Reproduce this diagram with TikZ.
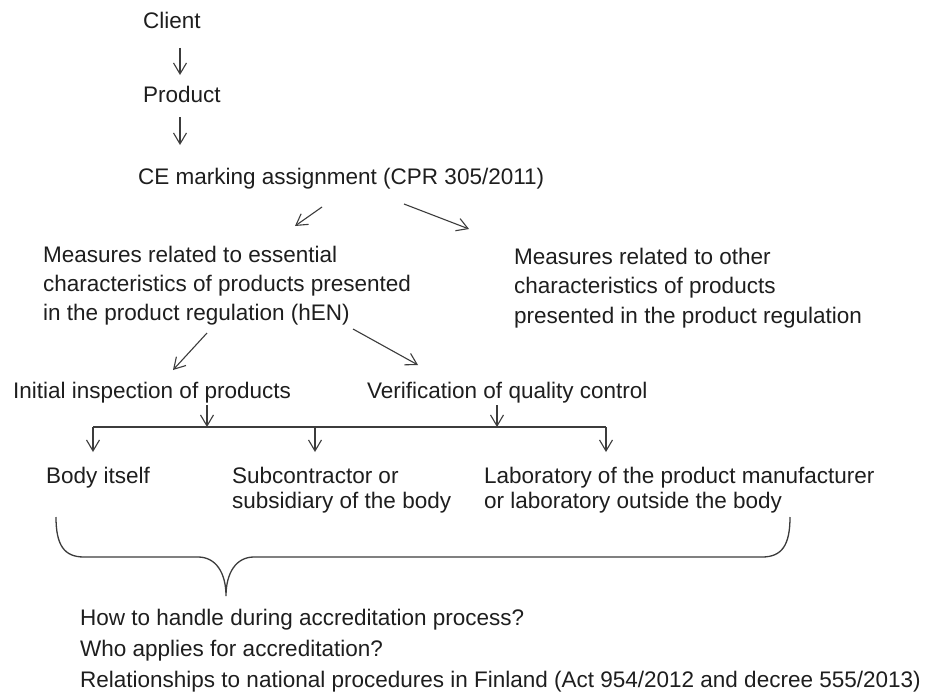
\documentclass[tikz,border=0pt]{standalone}
\usepackage{fontspec}
\setmainfont{Liberation Sans}
\usetikzlibrary{arrows.meta}
\definecolor{tcol}{HTML}{1E1E1E}
\definecolor{lcol}{HTML}{3C3C3C}
\newcommand{\mylines}[2]{{\fontsize{22.5}{#1}\selectfont\begin{tabular}[t]{@{}l@{}}#2\end{tabular}}}
\begin{document}
\begin{tikzpicture}[x=1pt,y=-1pt,
  txt/.style={inner sep=0pt, anchor=base west, text=tcol, font=\fontsize{22.5}{27}\selectfont},
  arr/.style={draw=lcol, line width=1.1pt, -{Straight Barb[length=11pt,width=13pt,line width=1.1pt]}},
  ln/.style={draw=lcol, line width=1.1pt},
  brace/.style={draw=lcol, line width=1.3pt}]
\useasboundingbox[fill=white] (0,0) rectangle (928,693);
% texts
\node[txt] (client) at (143,29) {Client};
\node[txt] (product) at (143,102) {Product};
\node[txt] (ce) at (138,184) {CE marking assignment (CPR 305/2011)};
\node[txt] (ess) at (43,262) {\mylines{29}{Measures related to essential\\characteristics of products presented\\in the product regulation (hEN)}};
\node[txt] (oth) at (514,264) {\mylines{29.5}{Measures related to other\\characteristics of products\\presented in the product regulation}};
\node[txt] (init) at (13,398) {Initial inspection of products};
\node[txt] (verif) at (367,398) {Verification of quality control};
\node[txt] (body) at (46,483) {Body itself};
\node[txt] (sub) at (232,483) {\mylines{25}{Subcontractor or\\subsidiary of the body}};
\node[txt] (lab) at (484,483) {\mylines{25}{Laboratory of the product manufacturer\\or laboratory outside the body}};
\node[txt] (q) at (80,625) {\mylines{31}{How to handle during accreditation process?\\Who applies for accreditation?\\Relationships to national procedures in Finland (Act 954/2012 and decree 555/2013)}};
% bus coordinates
\coordinate (busL) at (93,427);
\coordinate (busM) at (315,427);
\coordinate (busR) at (606,427);
\coordinate (j1) at (207,427);
\coordinate (j2) at (497,427);
% connectors
\draw[arr] ([shift={(37,19)}]client.base west) -- ([shift={(37,-27)}]product.base west);
\draw[arr] ([shift={(37,15)}]product.base west) -- ([shift={(42,-39)}]ce.base west);
\draw[arr] ([shift={(184,23)}]ce.base west) -- ([shift={(252,-36)}]ess.base west);
\draw[arr] ([shift={(266,20)}]ce.base west) -- ([shift={(-45,-35)}]oth.base west);
\draw[arr] ([shift={(164,71)}]ess.base west) -- ([shift={(160,-28)}]init.base west);
\draw[arr] ([shift={(310,67)}]ess.base west) -- ([shift={(51,-33)}]verif.base west);
\draw[arr] ([shift={(194,7)}]init.base west) -- (j1);
\draw[arr] ([shift={(130,7)}]verif.base west) -- (j2);
\draw[ln] (busL) -- (busR);
\draw[arr] (busL) -- ([shift={(47,-31)}]body.base west);
\draw[arr] (busM) -- ([shift={(83,-31)}]sub.base west);
\draw[arr] (busR) -- ([shift={(122,-31)}]lab.base west);
% brace
\draw[brace] (56,517) .. controls (56,545) and (64,557) .. (84,557) -- (198,557)
  .. controls (216,557) and (226,573) .. (226,596)
  .. controls (226,573) and (236,557) .. (254,557) -- (762,557)
  .. controls (782,557) and (790,545) .. (790,517);
\end{tikzpicture}
\end{document}
